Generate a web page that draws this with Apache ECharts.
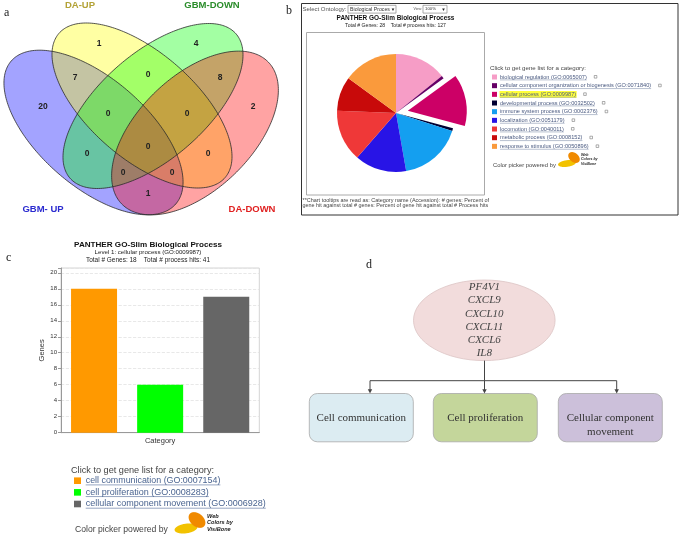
<!DOCTYPE html>
<html><head><meta charset="utf-8">
<script src="https://cdn.jsdelivr.net/npm/echarts@6/dist/echarts.min.js"></script>
<style>html,body{margin:0;padding:0;background:#fff}#c{width:679px;height:542px}</style>
</head><body><div id="c"></div>
<script>
// ================= DATA =================
const vennSets = ['GBM- UP', 'DA-UP', 'GBM-DOWN', 'DA-DOWN'];
const vennRegions = ['A', 'B', 'C', 'D', 'AB', 'BC', 'CD', 'ABC', 'BCD', 'ABCD', 'AC', 'BD', 'ACD', 'ABD', 'AD'];
const vennCounts = [20, 1, 4, 2, 7, 0, 8, 0, 0, 0, 0, 0, 0, 0, 1];

const pieCategories = ['biological regulation', 'cellular component organization or biogenesis', 'cellular process',
  'developmental process', 'immune system process', 'localization', 'locomotion', 'metabolic process', 'response to stimulus'];
const pieAccessions = ['GO:0065007', 'GO:0071840', 'GO:0009987', 'GO:0032502', 'GO:0002376', 'GO:0051179', 'GO:0040011', 'GO:0008152', 'GO:0050896'];
const pieValues = [18, 1, 18, 1, 22, 18, 18, 12, 19];
const pieSelected = 'cellular process';
const pieTitle = 'PANTHER GO-Slim Biological Process';
const pieSubtitle = 'Total # Genes: 28    Total # process hits: 127';

const barCategories = ['cell communication', 'cell proliferation', 'cellular component movement'];
const barAccessions = ['GO:0007154', 'GO:0008283', 'GO:0006928'];
const barValues = [18, 6, 17];
const barTickValues = [0, 2, 4, 6, 8, 10, 12, 14, 16, 18, 20];
const barTitle = 'PANTHER GO-Slim Biological Process';
const barSubtitle1 = 'Level 1: cellular process (GO:0009987)';
const barSubtitle2 = 'Total # Genes: 18    Total # process hits: 41';

const flowGenes = ['PF4V1', 'CXCL9', 'CXCL10', 'CXCL11', 'CXCL6', 'IL8'];
const flowProcesses = ['Cell communication', 'Cell proliferation', 'Cellular component\nmovement'];

// ================= STYLES / LAYOUT =================
const SANS = '"Liberation Sans"', SERIF = '"Liberation Serif"';
const vennFill = ['rgba(0,0,255,0.36)', 'rgba(255,255,0,0.36)', 'rgba(0,255,0,0.36)', 'rgba(255,0,0,0.36)'];
const vennLabelColor = ['#2b2bd0', '#b3a236', '#2a8c2a', '#e02020'];
const vennShape = [
  {cx: 93.5, cy: 132.5, a: 109, b: 54, t: 41},
  {cx: 142, cy: 105.5, a: 110, b: 53, t: 41},
  {cx: 153, cy: 106, a: 110, b: 53, t: -41},
  {cx: 195, cy: 133, a: 102, b: 57, t: -44}
];
const vennSetPos = [[43, 209], [80, 5], [212, 5], [252, 209]];
const vennRegionPos = [[43, 107], [99, 44], [196, 44], [253, 107], [75, 78], [148, 75], [220, 78], [108, 114], [187, 114],
  [148, 147], [87, 154], [208, 154], [123, 173], [172, 173], [148, 194]];
const pieColors = ['#f69dc6', '#660066', '#cc0066', '#000033', '#149ff0', '#2814e6', '#ef3838', '#c80a0a', '#fa9a3c'];
const barColors = ['#ff9900', '#00ff00', '#666666'];
const boxFills = ['#dcecf2', '#c4d69b', '#ccc0da'];

const mctx = document.createElement('canvas').getContext('2d');
function tw(text, font) { mctx.font = font; return mctx.measureText(text).width; }
function fitFont(text, width, family, pre) {
  pre = pre || '';
  const s = 100 * width / tw(text, pre + '100px ' + family);
  return pre + s.toFixed(2) + 'px ' + family;
}

const G = [];
function T(text, x, y, font, fill, align, va, z) {
  align = align || 'left'; va = va || 'middle';
  G.push({type: 'text', x: x, y: y, z: z || 10, silent: true,
    style: {text: text, font: font, fill: fill, align: align, verticalAlign: va, textAlign: align, textVerticalAlign: va}});
}
function L(x1, y1, x2, y2, stroke, w, z) { G.push({type: 'line', z: z || 5, silent: true, shape: {x1, y1, x2, y2}, style: {stroke: stroke, lineWidth: w || 1}}); }
function R(x, y, w, h, fill, stroke, lw, r, z) {
  G.push({type: 'rect', z: z || 1, silent: true, shape: {x: x, y: y, width: w, height: h, r: r || 0},
    style: {fill: fill || 'none', stroke: stroke || 'none', lineWidth: lw || 1}});
}
function ellPts(cx, cy, a, b, tdeg) {
  const th = tdeg * Math.PI / 180, pts = [];
  for (let i = 0; i < 240; i++) {
    const t = i / 240 * 2 * Math.PI, ct = Math.cos(t), st = Math.sin(t);
    pts.push([cx + a * ct * Math.cos(th) - b * st * Math.sin(th), cy + a * ct * Math.sin(th) + b * st * Math.cos(th)]);
  }
  return pts;
}
function P(pts, fill, stroke, lw, z) {
  G.push({type: 'polygon', z: z || 2, silent: true, shape: {points: pts}, style: {fill: fill || 'none', stroke: stroke || 'none', lineWidth: lw || 1}});
}

// ---------- panel letters ----------
T('a', 4, 13, '12px ' + SERIF, '#222');
T('b', 286, 11, '12px ' + SERIF, '#222');
T('c', 6, 258, '12px ' + SERIF, '#222');
T('d', 366, 265, '12px ' + SERIF, '#222');

// ---------- Panel a: Venn ----------
vennShape.forEach((e, i) => P(ellPts(e.cx, e.cy, e.a, e.b, e.t), vennFill[i], null, 1, 2 + i));
vennShape.forEach((e) => P(ellPts(e.cx, e.cy, e.a, e.b, e.t), 'none', '#2a2a2a', 0.8, 8));
vennSets.forEach((s, i) => T(s, vennSetPos[i][0], vennSetPos[i][1], 'bold 9.5px ' + SANS, vennLabelColor[i], 'center'));
vennCounts.forEach((c, i) => T(String(c), vennRegionPos[i][0], vennRegionPos[i][1], 'bold 8.5px ' + SANS, '#222', 'center'));

// ---------- Panel b: PANTHER pie page ----------
R(301.5, 3.5, 376.5, 211.5, '#fff', '#333', 1, 0, 0);
T('Select Ontology:', 302.5, 9.3, fitFont('Select Ontology:', 44, SANS), '#555');
R(348, 5.3, 48, 7.8, '#fff', '#888', 0.7, 0, 3);
T('Biological Proces', 350, 9.3, fitFont('Biological Proces', 40, SANS), '#333');
T('\u25BC', 393, 9.3, '4.5px ' + SANS, '#222', 'center');
T('View:', 413.5, 9.3, fitFont('View:', 8.5, SANS), '#555');
R(423, 5.3, 24, 7.8, '#fff', '#888', 0.7, 0, 3);
T('100%', 425, 9.3, fitFont('100%', 11, SANS), '#333');
T('\u25BC', 443.5, 9.3, '4.5px ' + SANS, '#222', 'center');
T(pieTitle, 395.5, 18.5, fitFont(pieTitle, 118, SANS, 'bold '), '#111', 'center');
T(pieSubtitle, 395.5, 25.3, fitFont(pieSubtitle, 101, SANS), '#222', 'center');
R(306.5, 32.5, 178, 162.5, '#fff', '#aaa', 1, 0, 1);
const fn1 = '**Chart tooltips are read as: Category name (Accession): # genes: Percent of';
const fn2 = 'gene hit against total # genes: Percent of gene hit against total # Process hits';
T(fn1, 302.5, 200.3, fitFont(fn1, 187, SANS), '#444');
T(fn2, 302.5, 205.3, fitFont(fn2, 186, SANS), '#444');
const hdr = 'Click to get gene list for a category:';
T(hdr, 490, 68.3, fitFont(hdr, 96, SANS), '#444');
const pieLegFont = '5.6px ' + SANS;
pieCategories.forEach((c, i) => {
  const y = 77 + i * 8.67;
  const s = c + ' (' + pieAccessions[i] + ')';
  const w = tw(s, pieLegFont);
  R(492, y - 2.5, 5, 5, pieColors[i], null, 1, 0, 3);
  if (c === pieSelected) R(499.5, y - 3.3, w + 1, 6.6, '#ffff3a', null, 1, 0, 3);
  T(s, 500, y, pieLegFont, '#4a5a80');
  L(500, y + 2.9, 500 + w, y + 2.9, '#7080a0', 0.5, 6);
  R(500 + w + 7.5, y - 1.5, 2.6, 2.6, 'none', '#777', 0.6, 0, 6);
});
const cp = 'Color picker powered by';
T(cp, 493, 165, fitFont(cp, 63, SANS), '#444');
P(ellPts(567, 163.5, 9, 3.3, -8), '#f2c200', null, 1, 6);
P(ellPts(574, 157.5, 6.5, 4.5, 40), '#f08a00', null, 1, 7);
T('Web', 581, 154.8, 'bold italic 3.6px ' + SANS, '#222');
T('Colors by', 581, 159.4, 'bold italic 3.6px ' + SANS, '#222');
T('VisiBone', 581, 164, 'bold italic 3.6px ' + SANS, '#222');

// ---------- Panel c: PANTHER bar page ----------
T(barTitle, 148, 244.3, fitFont(barTitle, 148, SANS, 'bold '), '#111', 'center');
T(barSubtitle1, 148, 252.8, fitFont(barSubtitle1, 107, SANS), '#222', 'center');
T(barSubtitle2, 148, 260, fitFont(barSubtitle2, 124, SANS), '#222', 'center');
T(hdr, 71, 470, fitFont(hdr, 143, SANS), '#444');
const barLegWidths = [135, 123, 180];
barCategories.forEach((c, i) => {
  const y = 480.7 + i * 11.65;
  const s = c + ' (' + barAccessions[i] + ')';
  const f = fitFont(s, barLegWidths[i], SANS);
  const w = tw(s, f);
  R(74, y - 3.3, 7, 6.6, barColors[i], null, 1, 0, 3);
  T(s, 85.7, y, f, '#4a6490');
  L(85.7, y + 4.2, 85.7 + w, y + 4.2, '#6a80a8', 0.7, 6);
});
T(cp, 75, 530, fitFont(cp, 93, SANS), '#444');
P(ellPts(186, 528.5, 11.5, 4.8, -8), '#f2c200', null, 1, 6);
P(ellPts(197, 520, 9.5, 6.5, 40), '#f08a00', null, 1, 7);
T('Web', 207, 516.5, 'bold italic 5.6px ' + SANS, '#222');
T('Colors by', 207, 522.8, 'bold italic 5.6px ' + SANS, '#222');
T('VisiBone', 207, 529, 'bold italic 5.6px ' + SANS, '#222');

// ---------- Panel d: flow diagram ----------
G.push({type: 'ellipse', z: 2, silent: true, shape: {cx: 484.3, cy: 320.3, rx: 70.8, ry: 40.3}, style: {fill: '#f2dcdc', stroke: '#dcc4c4', lineWidth: 0.8}});
flowGenes.forEach((g, i) => T(g, 484.3, 287.5 + i * 13.1, 'italic 11px ' + SERIF, '#444', 'center'));
const arrowX = [370, 484.5, 616.7];
L(484.5, 360.6, 484.5, 380.7, '#444', 1);
L(arrowX[0], 380.7, arrowX[2], 380.7, '#444', 1);
arrowX.forEach(x => {
  L(x, 380.7, x, 390, '#444', 1);
  P([[x - 2.2, 389.3], [x + 2.2, 389.3], [x, 393.5]], '#444', null, 1, 6);
});
const boxX = [309.3, 433.3, 558.3];
flowProcesses.forEach((p, i) => {
  R(boxX[i], 393.5, 104, 48.3, boxFills[i], '#a8a8a8', 0.8, 8, 2);
  const lines = p.split('\n');
  lines.forEach((ln, k) => T(ln, boxX[i] + 52, 417.8 + k * 14.3, '11px ' + SERIF, '#333', 'center'));
});

// ================= CHART =================
const chart = echarts.init(document.getElementById('c'), null, {renderer: 'canvas'});
chart.setOption({
  animation: false,
  backgroundColor: '#fff',
  graphic: {elements: G},
  grid: {left: 61, top: 268, width: 198.3, height: 164.7, show: true, borderColor: '#d4d4d4', borderWidth: 1, containLabel: false},
  xAxis: {
    type: 'category', data: barCategories,
    axisLabel: {show: false}, axisTick: {show: false},
    axisLine: {lineStyle: {color: '#999', width: 1}},
    name: 'Category', nameLocation: 'middle', nameGap: 4,
    nameTextStyle: {fontSize: 7.5, color: '#333', fontFamily: 'Liberation Sans', verticalAlign: 'top'}
  },
  yAxis: {
    type: 'value', min: barTickValues[0], max: 20.6, interval: barTickValues[1] - barTickValues[0],
    axisLine: {show: true, lineStyle: {color: '#999'}},
    axisTick: {show: true, length: 3, lineStyle: {color: '#999'}},
    axisLabel: {fontSize: 6, color: '#333', margin: 4, fontFamily: 'Liberation Sans',
      formatter: v => (barTickValues.indexOf(Math.round(v * 100) / 100) >= 0 ? String(v) : '')},
    splitLine: {show: true, lineStyle: {type: 'dashed', color: '#e2e2e2', width: 0.8}},
    name: 'Genes', nameLocation: 'middle', nameRotate: 90, nameGap: 13,
    nameTextStyle: {fontSize: 7.5, color: '#333', fontFamily: 'Liberation Sans'}
  },
  series: [
    {
      type: 'bar', barWidth: 46,
      data: barValues.map((v, i) => ({value: v, itemStyle: {color: barColors[i]}})),
      emphasis: {disabled: true}, silent: true
    },
    {
      type: 'pie', center: [396, 113], radius: 59, startAngle: 90, clockwise: true,
      selectedMode: 'single', selectedOffset: 12,
      label: {show: false}, labelLine: {show: false},
      emphasis: {disabled: true}, silent: false,
      itemStyle: {borderWidth: 0},
      data: pieCategories.map((c, i) => ({name: c, value: pieValues[i], selected: c === pieSelected, itemStyle: {color: pieColors[i]}}))
    }
  ]
});
</script>
</body></html>
